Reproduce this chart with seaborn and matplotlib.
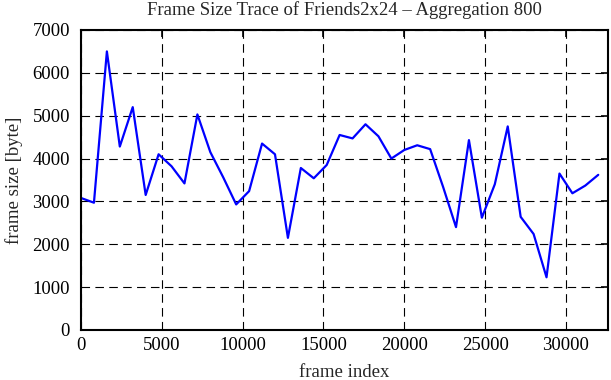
import numpy as np
import pandas as pd
import matplotlib
matplotlib.use("Agg")
import matplotlib.pyplot as plt
import seaborn as sns

# frame index (aggregation of 800 frames) and mean frame size in byte
frame_index = np.arange(0, 32001, 800)
frame_size = [3080, 2970, 6500, 4280, 5200, 3150, 4100, 3820, 3420, 5030,
              4150, 3560, 2930, 3240, 4350, 4100, 2150, 3780, 3540, 3850,
              4550, 4470, 4800, 4520, 4000, 4200, 4310, 4220, 3340, 2400,
              4430, 2620, 3400, 4750, 2640, 2240, 1230, 3650, 3190, 3370,
              3620]
x_ticks = [0, 5000, 10000, 15000, 20000, 25000, 30000]
y_ticks = [0, 1000, 2000, 3000, 4000, 5000, 6000, 7000]

df = pd.DataFrame({"frame index": frame_index, "frame size": frame_size})

sns.set_style("white")
plt.rcParams["font.family"] = ["Liberation Serif", "DejaVu Serif"]
fs = 13.5

fig = plt.figure(figsize=(6.11, 3.80), dpi=100)
ax = fig.add_axes([0.1326, 0.1316, 0.8624, 0.7895])

sns.lineplot(data=df, x="frame index", y="frame size", color="#0000ff",
             linewidth=1.6, ax=ax)

ax.set_xlim(0, 32600)
ax.set_ylim(0, 7000)
ax.set_xticks(x_ticks)
ax.set_yticks(y_ticks)
ax.grid(True, color="black", linestyle=(0, (7.7, 4.8)), linewidth=0.8)
ax.tick_params(direction="in", length=5, width=1.2, top=True, right=True,
               colors="black", labelsize=fs)
ax.tick_params(axis="y", pad=8)
ax.tick_params(axis="x", pad=5)
for s in ax.spines.values():
    s.set_linewidth(1.5)
    s.set_color("black")

ax.set_title("Frame Size Trace of Friends2x24 \u2013 Aggregation 800",
             fontsize=fs, pad=11)
ax.set_xlabel("frame index", fontsize=fs, labelpad=7)
ax.set_ylabel("frame size [byte]", fontsize=fs, labelpad=7)

fig.savefig("out.png", dpi=100)
